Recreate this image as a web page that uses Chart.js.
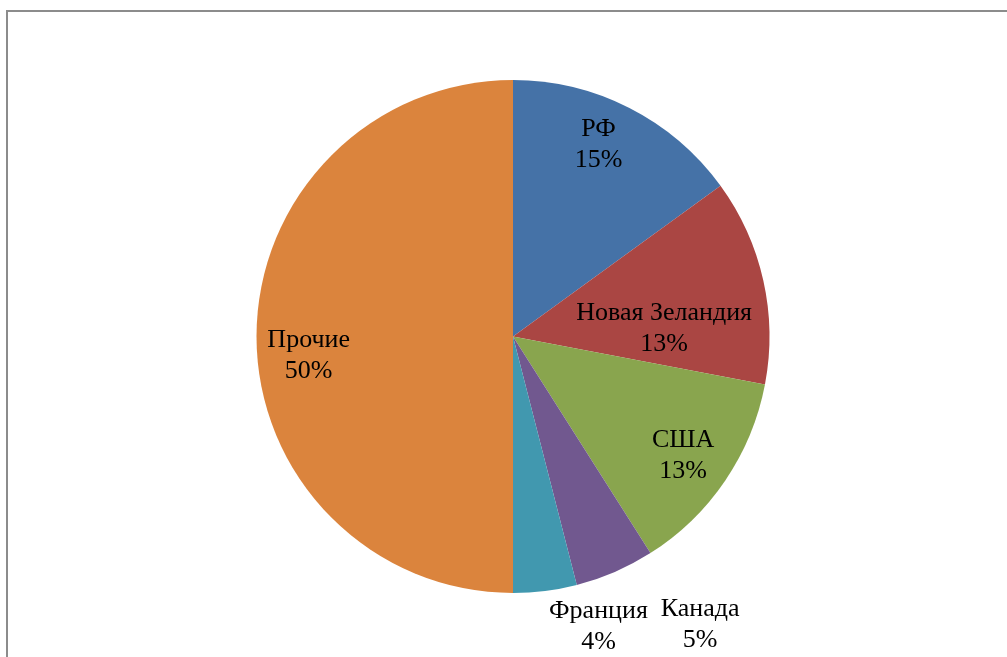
<!DOCTYPE html>
<html>
<head>
<meta charset="utf-8">
<script src="https://cdn.jsdelivr.net/npm/chart.js@4"></script>
<style>
  html, body { margin: 0; padding: 0; background: #fff; }
  #wrap { width: 1007px; height: 657px; }
</style>
</head>
<body>
<div id="wrap"><canvas id="pie"></canvas></div>
<script>
const countries = ['РФ', 'Новая Зеландия', 'США', 'Канада', 'Франция', 'Прочие'];
const shares = [15, 13, 13, 5, 4, 50];
const sliceColors = ['#4572A7', '#AA4643', '#89A54E', '#71588F', '#4198AF', '#DB843D'];

// where each label sits: [angle from 12 o'clock in degrees, distance as fraction of radius]
const labelSpots = [[24, 0.82], [87, 0.59], [125, 0.81], [147, 1.34], [163.6, 1.18], [264.7, 0.80]];

const frame = {
  id: 'frame',
  beforeDraw(chart) {
    const ctx = chart.ctx;
    ctx.save();
    ctx.strokeStyle = '#8c8c8c';
    ctx.lineWidth = 2;
    ctx.strokeRect(7, 11, 1100, 700);
    ctx.restore();
  }
};

const sliceLabels = {
  id: 'sliceLabels',
  afterDatasetsDraw(chart) {
    const ctx = chart.ctx;
    const arcs = chart.getDatasetMeta(0).data;
    ctx.save();
    ctx.font = '26px "Liberation Serif", "Times New Roman", serif';
    ctx.fillStyle = '#000';
    ctx.textAlign = 'center';
    ctx.textBaseline = 'middle';
    arcs.forEach((arc, i) => {
      const a = (labelSpots[i][0] - 90) * Math.PI / 180;
      const r = arc.outerRadius * labelSpots[i][1];
      const x = arc.x + Math.cos(a) * r;
      const y = arc.y + Math.sin(a) * r;
      ctx.fillText(countries[i], x, y - 15.5);
      ctx.fillText(shares[i] + '%', x, y + 15.5);
    });
    ctx.restore();
  }
};

new Chart(document.getElementById('pie').getContext('2d'), {
  type: 'pie',
  data: {
    labels: countries,
    datasets: [{
      data: shares,
      backgroundColor: sliceColors,
      borderWidth: 0
    }]
  },
  options: {
    responsive: true,
    maintainAspectRatio: false,
    animation: false,
    layout: { padding: { left: 19, right: 0, top: 80, bottom: 64 } },
    plugins: {
      legend: { display: false },
      tooltip: { enabled: false }
    }
  },
  plugins: [frame, sliceLabels]
});
</script>
</body>
</html>
